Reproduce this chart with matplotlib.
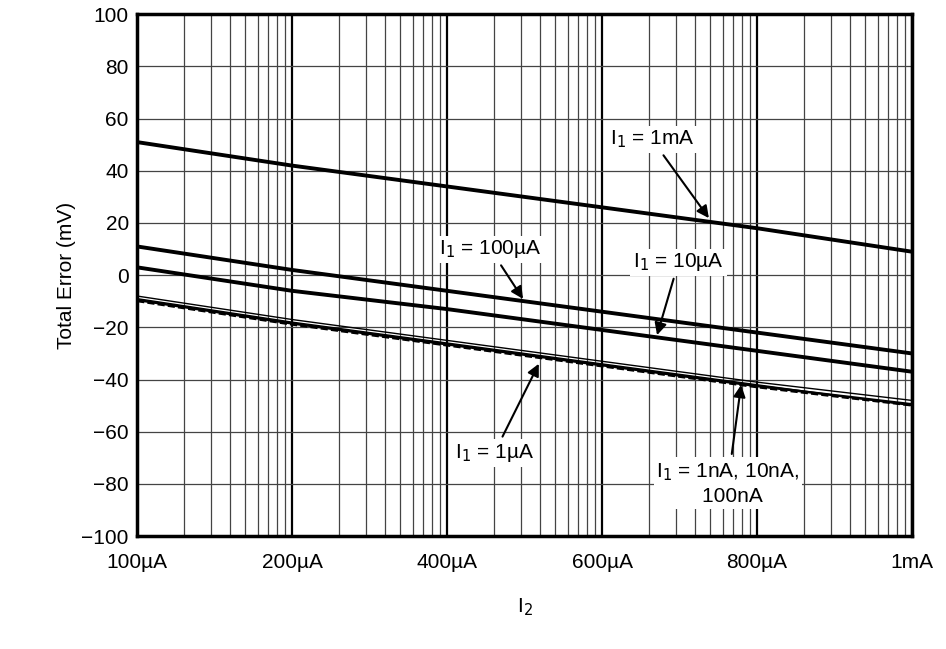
import matplotlib.pyplot as plt
import numpy as np

plt.rcParams['font.family'] = ['Liberation Sans', 'DejaVu Sans']

xlabels = ['100µA', '200µA', '400µA', '600µA', '800µA', '1mA']
# each labelled division is drawn as one log decade on the chart
xpos = [1, 10, 100, 1000, 10000, 100000]

i1_1mA = [51, 42, 34, 26, 18, 9]
i1_100uA = [11, 2, -6, -14, -22, -30]
i1_10uA = [3, -6, -13, -21, -29, -37]
i1_1uA = [-8, -17, -25, -33, -41, -48]
i1_1nA = [-9, -18, -26, -34, -42, -50]
i1_10nA = [-10, -19, -27, -35, -43, -50]
i1_100nA = [-9.5, -18.5, -26.5, -34.5, -42.5, -49.5]

fig = plt.figure(figsize=(9.46, 6.49), dpi=100)
ax = fig.add_axes([0.145, 0.174, 0.819, 0.804])
ax.set_xscale('log')
ax.set_xlim(1, 100000)
ax.set_ylim(-100, 100)

ax.plot(xpos, i1_1mA, color='k', lw=2.8)
ax.plot(xpos, i1_100uA, color='k', lw=2.8)
ax.plot(xpos, i1_10uA, color='k', lw=2.8)
ax.plot(xpos, i1_1uA, color='k', lw=1.0)
ax.plot(xpos, i1_1nA, color='k', lw=1.0)
ax.plot(xpos, i1_10nA, color='k', lw=1.4, ls='--')
ax.plot(xpos, i1_100nA, color='k', lw=1.8)

ax.set_xticks(xpos)
ax.set_xticklabels(xlabels, fontsize=15)
ax.set_yticks(np.arange(-100, 101, 20))
ax.set_yticklabels([str(v).replace('-', '−') for v in range(-100, 101, 20)], fontsize=15)
ax.tick_params(which='both', length=0, pad=12)
ax.tick_params(axis='y', pad=6)
ax.grid(True, which='major', color='k', lw=1.6)
ax.grid(True, which='minor', axis='x', color='#444444', lw=0.9)
ax.grid(True, which='major', axis='y', color='#444444', lw=0.9)
for s in ax.spines.values():
    s.set_linewidth(2.5)

ax.set_ylabel('Total Error (mV)', fontsize=15)
ax.set_xlabel('I$_2$', fontsize=15, labelpad=18)

box = dict(facecolor='white', edgecolor='none', pad=2)
ap = dict(arrowstyle='-|>', color='k', lw=1.5, mutation_scale=18)
fs = 15
ax.annotate('I$_1$ = 1mA', xy=(10**3.7, 21), xytext=(10**3.05, 50), fontsize=fs, bbox=box, arrowprops=ap)
ax.annotate('I$_1$ = 100µA', xy=(10**2.5, -10), xytext=(10**1.95, 8), fontsize=fs, bbox=box, arrowprops=ap)
ax.annotate('I$_1$ = 10µA', xy=(10**3.35, -24), xytext=(10**3.2, 3), fontsize=fs, bbox=box, arrowprops=ap)
ax.annotate('I$_1$ = 1µA', xy=(10**2.6, -33), xytext=(10**2.05, -70), fontsize=fs, bbox=box, arrowprops=ap)
ax.annotate('I$_1$ = 1nA, 10nA,\n        100nA', xy=(10**3.9, -41), xytext=(10**3.35, -87), fontsize=fs,
            bbox=box, arrowprops=ap, linespacing=1.3)

fig.savefig('out.png')
